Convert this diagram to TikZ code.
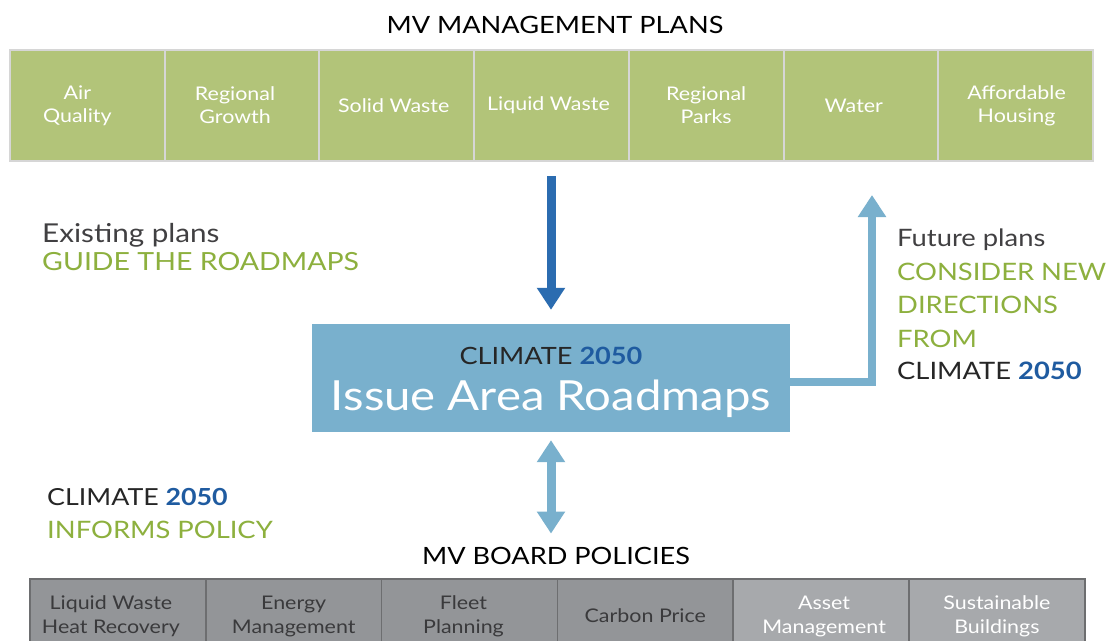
\documentclass[tikz,border=0pt]{standalone}
\usepackage{fontspec}
\setmainfont{Lato}[FakeStretch=1.14]
\usetikzlibrary{arrows.meta}

\definecolor{plangreen}{HTML}{B2C479}
\definecolor{cellline}{HTML}{D6D6D6}
\definecolor{labelgreen}{HTML}{8DB03E}
\definecolor{darktext}{HTML}{414042}
\definecolor{numblue}{HTML}{1F5BA0}
\definecolor{arrowblue}{HTML}{2B6CB0}
\definecolor{roadblue}{HTML}{79B0CD}
\definecolor{policydark}{HTML}{939598}
\definecolor{policylight}{HTML}{A7A9AC}
\definecolor{policyline}{HTML}{6D6E70}
\definecolor{policytext}{HTML}{3A3A3C}

\newcommand\fsz[2]{\fontsize{#1}{#2}\selectfont}
\newcommand\yr{\textbf{\color{numblue}2050}}

\tikzset{
  plancell/.style={draw=cellline, line width=2pt, fill=plangreen,
    minimum width=154.7pt, minimum height=111pt, inner sep=0pt},
  plantext/.style={text=white, align=center, font=\fsz{18.8}{23}, inner sep=0pt},
  policycell/.style={draw=policyline, line width=1.5pt, fill=policydark,
    minimum width=175.8pt, minimum height=74pt, inner sep=0pt},
  policylite/.style={policycell, fill=policylight},
  policytxt/.style={align=center, font=\fsz{18.8}{24}, inner sep=0pt},
  label/.style={anchor=base west, inner sep=0pt},
  heading/.style={anchor=base, inner sep=0pt, font=\fsz{23.8}{26}, text=black},
  fatarrow/.style={line width=9pt},
}

\begin{document}
\begin{tikzpicture}[x=1pt, y=-1pt]
\useasboundingbox (0,0) rectangle (1111,640);
\fill[white] (0,0) rectangle (1111,640);

% management plans row
\node[heading] (mvplans) at (555,33) {MV MANAGEMENT PLANS};
\foreach \i/\dx/\t in {1/-10/{Air\\Quality}, 2/-7/{Regional\\Growth}, 3/-3/{Solid Waste},
                       4/-3/{Liquid Waste}, 5/0/{Regional\\Parks}, 6/-7/{Water},
                       7/1/{Affordable\\Housing}}{
  \node[plancell] (p\i) at ({10+154.7*(\i-0.5)},105.5) {};
  \node[plantext] (pt\i) at ([xshift=\dx pt]p\i.center) {\t};
}

% central roadmap box
\node[fill=roadblue, minimum width=478pt, minimum height=108pt, inner sep=0pt] (roadmaps) at (551,378) {};
\node[anchor=base, inner sep=0pt, font=\fsz{23.8}{30}, text=black!85] (rmtitle) at (551,364) {CLIMATE \yr};
\node[anchor=base, inner sep=0pt, font=\fsz{41.5}{50}, text=white] (rmname) at (551,410) {Issue Area Roadmaps};

% left labels
\node[label, font=\fsz{26}{30}, text=darktext] (existing) at (42,242) {Existing plans};
\node[label, font=\fsz{25}{30}, text=labelgreen] (guide) at (42,270) {GUIDE THE ROADMAPS};
\node[label, font=\fsz{23.5}{30}, text=black!85] (informs1) at (47,505) {CLIMATE \yr};
\node[label, font=\fsz{24}{30}, text=labelgreen] (informs2) at (47,538) {INFORMS POLICY};

% right labels
\node[label, font=\fsz{24}{30}, text=darktext] (future) at (897,246) {Future plans};
\node[label, font=\fsz{24}{30}, text=labelgreen] (consider) at (897,280) {CONSIDER NEW};
\node[label, font=\fsz{24}{30}, text=labelgreen] (directions) at (897,313) {DIRECTIONS};
\node[label, font=\fsz{24}{30}, text=labelgreen] (from) at (897,347) {FROM};
\node[label, font=\fsz{24}{30}, text=black!85] (fromclimate) at (897,379) {CLIMATE \yr};

% board policies row
\node[heading] (mvboard) at (556,564) {MV BOARD POLICIES};
\begin{scope}
  \clip (0,0) rectangle (1111,640);
  \foreach \i/\dx/\t in {1/-7/{Liquid Waste\\Heat Recovery}, 2/0/{Energy\\Management},
                         3/-6/{Fleet\\Planning}, 4/0/{Carbon Price}}{
    \node[policycell] (b\i) at ({30+175.8*(\i-0.5)},616) {};
    \node[policytxt, text=policytext] (bt\i) at ([xshift=\dx pt]b\i.center) {\t};
  }
  \foreach \i/\dx/\t in {5/3/{Asset\\Management}, 6/0/{Sustainable\\Buildings}}{
    \node[policylite] (b\i) at ({30+175.8*(\i-0.5)},616) {};
    \node[policytxt, text=white] (bt\i) at ([xshift=\dx pt]b\i.center) {\t};
  }
\end{scope}

% connectors
\coordinate (futuretip) at (872,195);
\draw[fatarrow, arrowblue, -{Triangle[width=27pt,length=22pt]},
      shorten <=14pt, shorten >=14pt] (p4.south -| roadmaps.north) -- (roadmaps.north);
\draw[line width=8pt, roadblue, line join=miter, -{Triangle[width=27pt,length=22pt]}]
      ([yshift=-4pt]roadmaps.east) -| (futuretip);
\draw[fatarrow, roadblue, {Triangle[width=27pt,length=22pt]}-{Triangle[width=27pt,length=22pt]},
      shorten <=8pt, shorten >=13pt] (roadmaps.south) -- (mvboard.north -| roadmaps.south);
\end{tikzpicture}
\end{document}
